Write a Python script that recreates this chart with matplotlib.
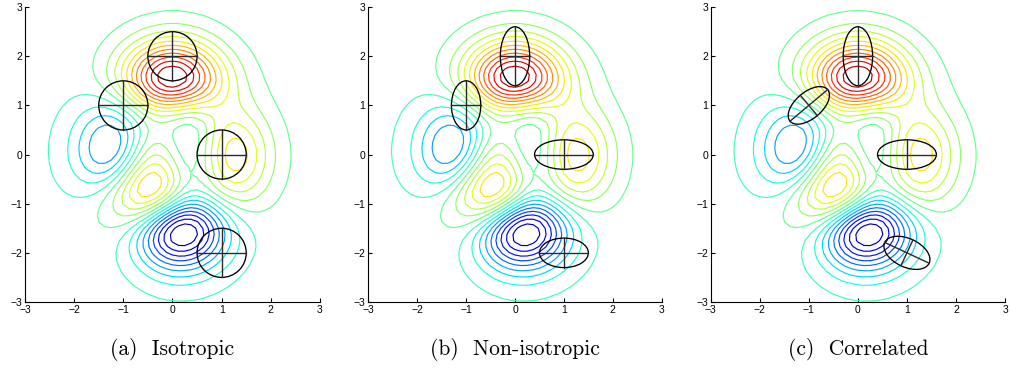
"""
Contours of the peaks surface with four Gaussian kernels drawn as 1-sigma
ellipses: isotropic, non-isotropic (axis aligned) and correlated (rotated).
Writes out.png.
"""
import matplotlib
matplotlib.use("Agg")
import matplotlib.pyplot as plt
import numpy as np
from matplotlib.patches import Ellipse

# ---- data ----
GRID_N = 49                     # MATLAB peaks() default grid
GRID_LIM = 3.0
N_LEVELS = 20                   # contour(Z, 20)

centers_x = [0.0, -1.0, 1.0, 1.0]
centers_y = [2.0, 1.0, 0.0, -2.0]

# semi-axis along first direction, semi-axis along second, rotation (deg)
iso_a = [0.5, 0.5, 0.5, 0.5]
iso_b = [0.5, 0.5, 0.5, 0.5]
iso_ang = [0, 0, 0, 0]

noniso_a = [0.3, 0.3, 0.6, 0.5]
noniso_b = [0.6, 0.5, 0.3, 0.3]
noniso_ang = [0, 0, 0, 0]

corr_a = [0.3, 0.5, 0.6, 0.5]
corr_b = [0.6, 0.27, 0.3, 0.29]
corr_ang = [0, 40, 0, -25]

captions = ["(a)  Isotropic", "(b)  Non-isotropic", "(c)  Correlated"]
ticks = [-3, -2, -1, 0, 1, 2, 3]


def peaks(x, y):
    return (3 * (1 - x) ** 2 * np.exp(-x ** 2 - (y + 1) ** 2)
            - 10 * (x / 5 - x ** 3 - y ** 5) * np.exp(-x ** 2 - y ** 2)
            - 1 / 3 * np.exp(-(x + 1) ** 2 - y ** 2))


g = np.linspace(-GRID_LIM, GRID_LIM, GRID_N)
X, Y = np.meshgrid(g, g)
Z = peaks(X, Y)
zmin, zmax = Z.min(), Z.max()
levels = np.linspace(zmin, zmax, N_LEVELS + 2)[1:-1]

fig = plt.figure(figsize=(10.11, 3.8), dpi=100)
positions = [
    [0.0247, 0.2053, 0.2918, 0.776],
    [0.3643, 0.2053, 0.2902, 0.776],
    [0.7030, 0.2053, 0.2911, 0.776],
]
panels = [
    (iso_a, iso_b, iso_ang),
    (noniso_a, noniso_b, noniso_ang),
    (corr_a, corr_b, corr_ang),
]

for pos, (aa, bb, angs), cap in zip(positions, panels, captions):
    ax = fig.add_axes(pos)
    ax.contour(X, Y, Z, levels=levels, cmap="jet",
               vmin=zmin, vmax=zmax, linewidths=0.85)

    for cx, cy, a, b, ang in zip(centers_x, centers_y, aa, bb, angs):
        ax.add_patch(Ellipse((cx, cy), 2 * a, 2 * b, angle=ang, fill=False,
                             edgecolor="black", linewidth=0.95, zorder=3))
        t = np.deg2rad(ang)
        ux, uy = np.cos(t), np.sin(t)
        vx, vy = -np.sin(t), np.cos(t)
        ax.plot([cx - a * ux, cx + a * ux], [cy - a * uy, cy + a * uy],
                color="#2a2a2a", linewidth=1.0, zorder=3)
        ax.plot([cx - b * vx, cx + b * vx], [cy - b * vy, cy + b * vy],
                color="#2a2a2a", linewidth=1.0, zorder=3)

    ax.set_xlim(-3, 3)
    ax.set_ylim(-3, 3)
    ax.set_xticks(ticks)
    ax.set_yticks(ticks)
    ax.spines["top"].set_visible(False)
    ax.spines["right"].set_visible(False)
    ax.tick_params(direction="in", length=3, labelsize=7.5, pad=2)
    for lbl in ax.get_xticklabels() + ax.get_yticklabels():
        lbl.set_family("Liberation Sans")

    fig.text(pos[0] + pos[2] / 2, 0.08, cap, ha="center", va="center",
             fontname="cmr10", fontsize=15.5)

fig.savefig("out.png", dpi=100)
